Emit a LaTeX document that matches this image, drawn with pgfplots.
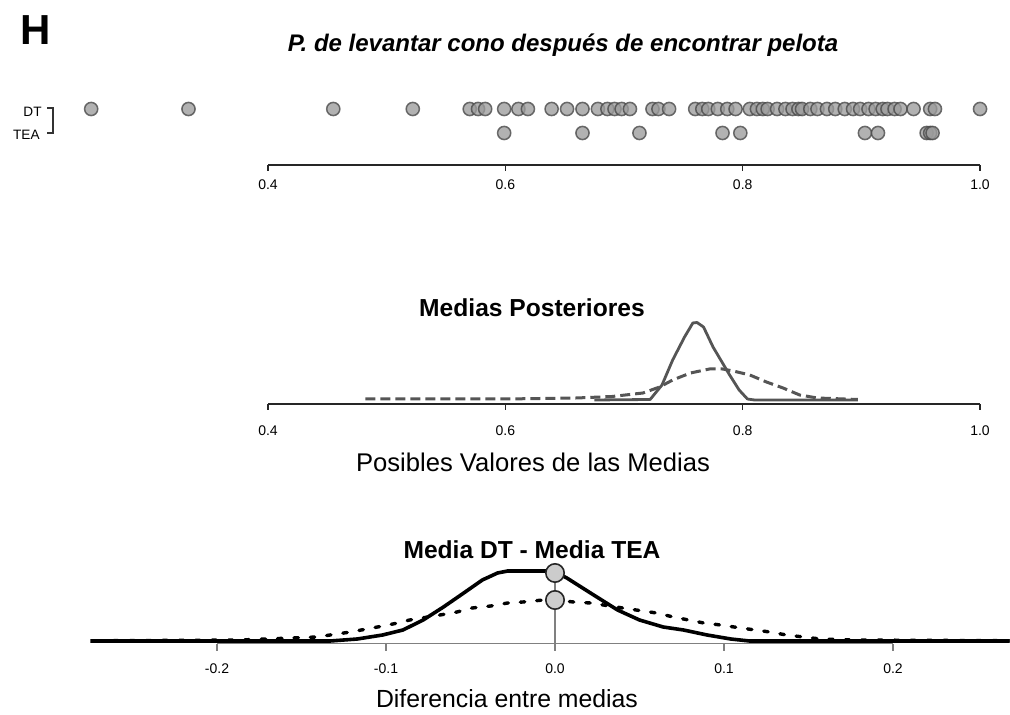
\documentclass[border=0pt]{standalone}
\usepackage{pgfplots}
\pgfplotsset{compat=1.18}
\usepackage{fontspec}
\setmainfont{Liberation Sans}
\definecolor{dgray}{HTML}{555555}
\definecolor{ptfill}{HTML}{9C9C9C}
\definecolor{ptdraw}{HTML}{484848}
\begin{document}
\begin{tikzpicture}
\useasboundingbox (0,0) rectangle (505pt,357.5pt);

% ---------------- top strip ----------------
\begin{axis}[at={(15.33pt,275pt)}, anchor=south west,
  x=593.35pt, y=12pt, xmin=0.2, xmax=1.02, ymin=-1.3333, ymax=1.5,
  clip=false, hide y axis, axis x line*=bottom, axis line style={draw=none},
  xtick={0.4,0.6,0.8,1.0}, xticklabels={0.4,0.6,0.8,1.0},
  tick align=outside, major tick length=3pt,
  xtick style={draw=black!85, line width=0.6pt},
  xticklabel style={font=\fontsize{7}{8}\selectfont, yshift=-1pt}]
\draw[black!85, line width=0.6pt] (axis cs:0.4,-1.3333) -- (axis cs:1.0,-1.3333);
\addplot[only marks, mark=*, mark size=3.3pt, opacity=0.78,
  mark options={fill=ptfill, draw=ptdraw, line width=0.75pt}] coordinates {
(0.251,1) (0.333,1) (0.455,1) (0.522,1) (0.570,1) (0.577,1) (0.583,1) (0.599,1)
(0.611,1) (0.619,1) (0.639,1) (0.652,1) (0.665,1) (0.678,1) (0.686,1) (0.692,1)
(0.698,1) (0.705,1) (0.724,1) (0.729,1) (0.738,1) (0.760,1) (0.766,1) (0.771,1)
(0.779,1) (0.787,1) (0.794,1) (0.806,1) (0.812,1) (0.817,1) (0.821,1) (0.829,1)
(0.836,1) (0.842,1) (0.847,1) (0.850,1) (0.857,1) (0.863,1) (0.871,1) (0.878,1)
(0.886,1) (0.893,1) (0.899,1) (0.906,1) (0.912,1) (0.918,1) (0.922,1) (0.928,1)
(0.933,1) (0.944,1) (0.958,1) (0.962,1) (1.000,1)
};
\addplot[only marks, mark=*, mark size=3.3pt, opacity=0.78,
  mark options={fill=ptfill, draw=ptdraw, line width=0.75pt}] coordinates {
(0.599,0) (0.665,0) (0.713,0) (0.783,0) (0.798,0) (0.903,0) (0.914,0)
(0.955,0) (0.958,0) (0.960,0)
};
\end{axis}

% ---------------- middle panel ----------------
\begin{axis}[at={(15.33pt,155.5pt)}, anchor=south west,
  x=593.35pt, y=0.5pt, xmin=0.2, xmax=1.02, ymin=-4, ymax=80,
  clip=false, hide y axis, axis x line*=bottom, axis line style={draw=none},
  xtick={0.4,0.6,0.8,1.0}, xticklabels={0.4,0.6,0.8,1.0},
  tick align=outside, major tick length=3pt,
  xtick style={draw=black!85, line width=0.6pt},
  xticklabel style={font=\fontsize{7}{8}\selectfont, yshift=-4.5pt}]
\draw[black!85, line width=0.7pt] (axis cs:0.4,-4) -- (axis cs:1.0,-4);
\addplot[dgray, line width=1.5pt, dash pattern=on 5pt off 2.5pt, line join=round] coordinates {
(0.482,1) (0.600,1) (0.660,2) (0.690,3.5) (0.716,7) (0.730,13) (0.741,20) (0.756,27)
(0.772,31) (0.783,31) (0.792,29) (0.806,25) (0.820,18) (0.834,12) (0.848,5)
(0.863,2) (0.897,0.5)
};
\addplot[dgray, line width=1.4pt, line join=round] coordinates {
(0.675,0) (0.722,0.5) (0.732,15) (0.741,40) (0.751,63) (0.758,77) (0.7615,77.5)
(0.767,73) (0.775,53) (0.783,37) (0.786,31) (0.789,25) (0.797,10) (0.804,1)
(0.810,0) (0.897,0)
};
\end{axis}

% ---------------- bottom panel ----------------
\begin{axis}[at={(45.125pt,35.5pt)}, anchor=south west,
  x=845pt, y=0.5pt, xmin=-0.275, xmax=0.269, ymin=-3, ymax=80,
  clip=true, hide y axis, axis x line*=bottom, axis line style={draw=none},
  xtick={-0.2,-0.1,0,0.1,0.2}, xticklabels={-0.2,-0.1,0.0,0.1,0.2},
  tick align=outside, major tick length=3.5pt,
  xtick style={draw=gray, line width=0.6pt},
  xticklabel style={font=\fontsize{7}{8}\selectfont, yshift=-3pt}]
\draw[gray, line width=0.7pt] (axis cs:-0.2,-3) -- (axis cs:0.2,-3);
\addplot[gray, line width=0.6pt] coordinates {(0,-3) (0,68)};
\addplot[black, line width=1.7pt, line cap=round, dash pattern=on 2.2pt off 6pt] coordinates {
(-0.30,0) (-0.186,1) (-0.141,4) (-0.133,6) (-0.121,9) (-0.105,14) (-0.093,18)
(-0.086,21) (-0.068,26) (-0.058,29) (-0.049,33) (-0.038,35) (-0.028,38)
(-0.019,39) (-0.007,41) (0,41) (0.011,39) (0.021,38) (0.040,33) (0.060,28)
(0.070,24) (0.088,18) (0.098,16) (0.110,13) (0.127,9) (0.137,6) (0.147,4)
(0.157,2) (0.176,1) (0.30,0)
};
\addplot[black, line width=1.8pt, line join=round] coordinates {
(-0.30,0) (-0.133,0) (-0.117,2) (-0.102,6) (-0.090,11) (-0.078,21) (-0.066,34)
(-0.054,48) (-0.043,61) (-0.034,68) (-0.028,70) (-0.022,70) (-0.005,70) (0,69)
(0.007,63) (0.021,48) (0.037,31) (0.050,21) (0.064,14) (0.076,11) (0.090,6)
(0.104,2) (0.115,0) (0.30,0)
};
\addplot[only marks, mark=*, mark size=4.6pt,
  mark options={fill=black!20, draw=black!85, line width=0.8pt}] coordinates {(0,68) (0,41)};
\end{axis}

% ---------------- texts ----------------
\node[font=\bfseries\fontsize{21}{24}\selectfont] at (18pt,342.5pt) {H};
\node[font=\bfseries\itshape\fontsize{12}{14}\selectfont] at (281.5pt,335pt) {P. de levantar cono después de encontrar pelota};
\node[anchor=east, inner sep=0pt, font=\fontsize{6.8}{8}\selectfont] at (21pt,301.5pt) {DT};
\node[anchor=east, inner sep=0pt, font=\fontsize{6.8}{8}\selectfont] at (20pt,290pt) {TEA};
\draw[black!80, line width=0.6pt] (23.5pt,303.5pt) -- (26.5pt,303.5pt) -- (26.5pt,291pt) -- (23.5pt,291pt);
\node[font=\bfseries\fontsize{12.3}{14}\selectfont] at (266pt,203.5pt) {Medias Posteriores};
\node[font=\fontsize{12.8}{15}\selectfont] at (266.5pt,126.5pt) {Posibles Valores de las Medias};
\node[font=\bfseries\fontsize{12.3}{14}\selectfont] at (266pt,82.5pt) {Media DT - Media TEA};
\node[font=\fontsize{12.4}{14}\selectfont] at (253.5pt,8pt) {Diferencia entre medias};
\end{tikzpicture}
\end{document}
